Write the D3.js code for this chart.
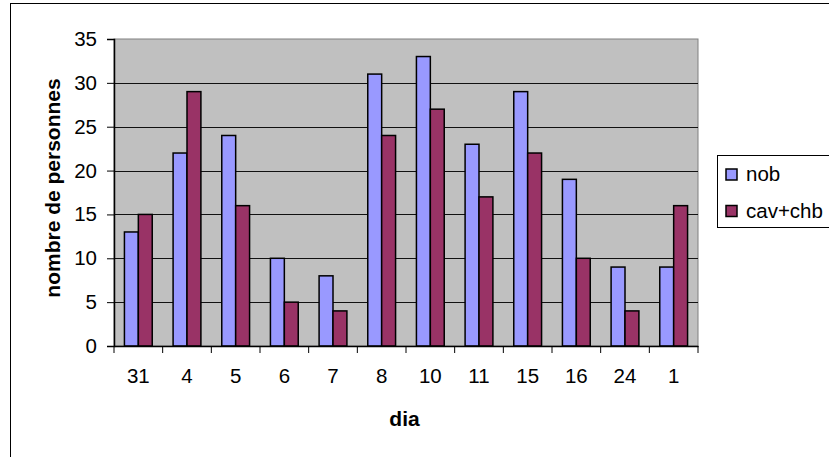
<!DOCTYPE html>
<html><head><meta charset="utf-8">
<script src="https://cdn.jsdelivr.net/npm/d3@7"></script>
<style>body{margin:0;background:#fff}svg{display:block;font-family:"Liberation Sans",Arial,sans-serif}</style>
</head><body>
<svg id="c" width="829" height="457"></svg>
<script>
const categories = ["31","4","5","6","7","8","10","11","15","16","24","1"];
const nob = [13,22,24,10,8,31,33,23,29,19,9,9];
const cavChb = [15,29,16,5,4,24,27,17,22,10,4,16];
const seriesNames = ["nob","cav+chb"];
const yTicks = [0,5,10,15,20,25,30,35];
const colors = ["#9999FF","#993366"];

const svg = d3.select("#c");
// outer chart border (extends past the image)
svg.append("rect").attr("x",10.5).attr("y",3.5).attr("width",900).attr("height",600)
  .attr("fill","#fff").attr("stroke","#000").attr("stroke-width",1);

const L=114, R=698, T=39, B=346;
const x = d3.scaleBand().domain(categories).range([L,R]);
const y = d3.scaleLinear().domain([0,35]).range([B,T]);

svg.append("rect").attr("x",L).attr("y",T).attr("width",R-L).attr("height",B-T)
  .attr("fill","#C0C0C0").attr("stroke","#808080");

// gridlines
svg.append("g").selectAll("line").data(yTicks.filter(d=>d>0&&d<35)).join("line")
  .attr("x1",L).attr("x2",R).attr("y1",d=>Math.round(y(d))+0.5).attr("y2",d=>Math.round(y(d))+0.5)
  .attr("stroke","#111").attr("stroke-width",1);

// bars
const bw = x.bandwidth()/3.5;
const data = categories.map((c,i)=>({c,vals:[nob[i],cavChb[i]]}));
const g = svg.append("g");
data.forEach(d=>{
  d.vals.forEach((v,j)=>{
    const x0 = x(d.c) + x.bandwidth()*0.75/3.5 + j*bw;
    g.append("rect").attr("x",x0).attr("y",y(v)).attr("width",bw).attr("height",y(0)-y(v))
      .attr("fill",colors[j]).attr("stroke","#000").attr("stroke-width",1.5);
  });
});

// y axis
const ya = d3.axisLeft(y).tickValues(yTicks).tickSize(7).tickPadding(10);
const yg = svg.append("g").attr("transform",`translate(${L},0)`).call(ya);
yg.select(".domain").attr("stroke","#000").attr("stroke-width",1.5);
yg.selectAll(".tick line").attr("stroke","#000");
yg.selectAll(".tick text").attr("font-size",20.5).attr("font-family","Liberation Sans, Arial, sans-serif").attr("fill","#000");

// x axis
const xa = d3.axisBottom(x).tickSize(0).tickPadding(22);
const xg = svg.append("g").attr("transform",`translate(0,${B})`).call(xa);
xg.select(".domain").attr("stroke","#000").attr("stroke-width",1.5);
xg.selectAll(".tick text").attr("font-size",20.5).attr("font-family","Liberation Sans, Arial, sans-serif").attr("fill","#000");
// category boundary ticks
const bounds = categories.map(c=>x(c)).concat([R]);
xg.selectAll(".bt").data(bounds).join("line").attr("class","bt")
  .attr("x1",d=>d).attr("x2",d=>d).attr("y1",0).attr("y2",7).attr("stroke","#000");

// axis titles
svg.append("text").attr("x",404.5).attr("y",426).attr("text-anchor","middle")
  .attr("font-weight","bold").attr("font-size",21).text("dia");
svg.append("text").attr("transform","translate(60,188) rotate(-90)").attr("text-anchor","middle")
  .attr("font-weight","bold").attr("font-size",21).text("nombre de personnes");

// legend
svg.append("rect").attr("x",717.5).attr("y",155.5).attr("width",200).attr("height",72)
  .attr("fill","#fff").attr("stroke","#000");
seriesNames.forEach((s,i)=>{
  const yy = 169 + i*36.5;
  svg.append("rect").attr("x",726).attr("y",yy).attr("width",11).attr("height",11)
    .attr("fill",colors[i]).attr("stroke","#000").attr("stroke-width",1.5);
  svg.append("text").attr("x",746).attr("y",yy+12).attr("font-size",20.5).text(s);
});
</script>
</body></html>
